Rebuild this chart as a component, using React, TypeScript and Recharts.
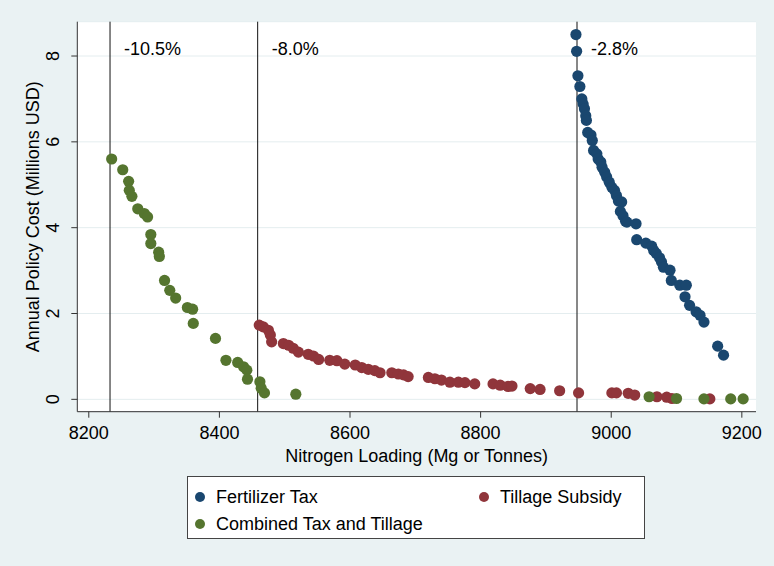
import {
  CartesianGrid,
  Label,
  ReferenceLine,
  Scatter,
  ScatterChart,
  XAxis,
  YAxis,
} from "recharts";

// [nitrogen loading, annual cost]
const fertilizerTax: [number, number][] = [
  [8946, 8.5], [8947, 8.11], [8949, 7.54], [8952, 7.29], [8955, 7.0], [8957, 6.88],
  [8959, 6.77], [8961, 6.61], [8962, 6.5], [8964, 6.22], [8969, 6.16], [8971, 6.03],
  [8973, 5.8], [8978, 5.72], [8980, 5.6], [8984, 5.53], [8986, 5.41], [8990, 5.29],
  [8993, 5.18], [8997, 5.06], [9001, 4.94], [9005, 4.87], [9008, 4.75], [9011, 4.62],
  [9016, 4.6], [9014, 4.38], [9018, 4.28], [9022, 4.15], [9024, 4.13], [9038, 4.09],
  [9039, 3.72], [9053, 3.64], [9062, 3.57], [9065, 3.47], [9069, 3.4], [9074, 3.3],
  [9077, 3.2], [9080, 3.08], [9090, 3.01], [9092, 2.77], [9105, 2.66], [9115, 2.66],
  [9113, 2.39], [9120, 2.19], [9130, 2.04], [9136, 1.96], [9142, 1.8], [9163, 1.24],
  [9172, 1.03],
];

const tillageSubsidy: [number, number][] = [
  [8461, 1.73], [8467, 1.69], [8475, 1.61], [8478, 1.5], [8480, 1.34], [8498, 1.3],
  [8506, 1.26], [8513, 1.19], [8521, 1.1], [8536, 1.05], [8544, 1.01], [8552, 0.93],
  [8569, 0.91], [8580, 0.9], [8592, 0.82], [8608, 0.8], [8618, 0.74], [8628, 0.7],
  [8638, 0.67], [8646, 0.62], [8664, 0.62], [8674, 0.59], [8682, 0.57], [8689, 0.53],
  [8720, 0.51], [8730, 0.48], [8740, 0.45], [8753, 0.4], [8766, 0.4], [8776, 0.39],
  [8791, 0.36], [8819, 0.36], [8830, 0.33], [8842, 0.3], [8848, 0.31], [8876, 0.25],
  [8891, 0.23], [8921, 0.2], [8950, 0.15], [9001, 0.15], [9008, 0.15], [9026, 0.14],
  [9036, 0.1], [9070, 0.06], [9085, 0.05], [9093, 0.02], [9151, 0.01],
];

const combined: [number, number][] = [
  [8235, 5.6], [8252, 5.35], [8261, 5.08], [8262, 4.87], [8266, 4.73], [8275, 4.44],
  [8285, 4.33], [8290, 4.25], [8295, 3.84], [8295, 3.63], [8307, 3.43], [8308, 3.33],
  [8316, 2.77], [8324, 2.54], [8333, 2.36], [8351, 2.14], [8359, 2.1], [8360, 1.77],
  [8394, 1.42], [8410, 0.91], [8428, 0.86], [8437, 0.76], [8442, 0.68], [8443, 0.47],
  [8462, 0.41], [8464, 0.26], [8469, 0.15], [8517, 0.12], [9058, 0.06], [9100, 0.02],
  [9142, 0.01], [9183, 0.01], [9202, 0.01],
];

const cutoffs = [8232.5, 8458.6, 8947.6];
const cutoffLabels = ["-10.5%", "-8.0%", "-2.8%"];

const xTicks = [8200, 8400, 8600, 8800, 9000, 9200];
const yTicks = [0, 2, 4, 6, 8];

const seriesNames = ["Fertilizer Tax", "Tillage Subsidy", "Combined Tax and Tillage"];

const BLUE = "#1a476f";
const RED = "#90353b";
const GREEN = "#55752f";
const BG = "#eaf2f3";
const FONT = "'Liberation Sans', Arial, Helvetica, sans-serif";

const toPts = (arr: [number, number][]) => arr.map(([x, y]) => ({ x, y }));

const dot = (color: string) => (p: any) => (
  <circle cx={p.cx} cy={p.cy} r={5.6} fill={color} stroke="none" />
);

const XTick = (p: any) => (
  <text x={p.x} y={433} textAnchor="middle" dominantBaseline="central" fontSize={18} fill="#000" fontFamily={FONT}>
    {p.payload.value}
  </text>
);

const YTick = (p: any) => (
  <text
    x={53}
    y={p.y}
    transform={`rotate(-90 53 ${p.y})`}
    textAnchor="middle"
    dominantBaseline="central"
    fontSize={18}
    fill="#000"
    fontFamily={FONT}
  >
    {p.payload.value}
  </text>
);

const cutLabel = (text: string) => (p: any) => (
  <text x={p.viewBox.x + 14} y={49} dominantBaseline="central" fontSize={18} fill="#000" fontFamily={FONT}>
    {text}
  </text>
);

function LegendBox() {
  const colors = [BLUE, RED, GREEN];
  const spots = [
    { left: 199, top: 496 },
    { left: 483, top: 496 },
    { left: 199, top: 523 },
  ];
  return (
    <div
      style={{
        position: "absolute",
        left: 187,
        top: 476,
        width: 458,
        height: 63,
        background: "#fff",
        border: "1px solid #444",
        boxSizing: "border-box",
      }}
    >
      {seriesNames.map((name, i) => (
        <div
          key={name}
          style={{
            position: "absolute",
            left: spots[i].left - 187 - 5,
            top: spots[i].top - 476 - 11,
            display: "flex",
            alignItems: "center",
            height: 22,
            fontFamily: FONT,
            fontSize: 18,
            color: "#000",
            whiteSpace: "nowrap",
          }}
        >
          <span
            style={{
              width: 10,
              height: 10,
              borderRadius: "50%",
              background: colors[i],
              marginRight: 11,
              display: "inline-block",
            }}
          />
          {name}
        </div>
      ))}
    </div>
  );
}

export default function App() {
  return (
    <div style={{ position: "fixed", left: 0, top: 0, width: 774, height: 566, background: BG }}>
      <ScatterChart width={774} height={566} margin={{ top: 21.7, right: 18, bottom: 0, left: 0 }}>
        <CartesianGrid horizontal vertical={false} fill="#fff" stroke="#e4edef" strokeWidth={1} />
        <XAxis
          dataKey="x"
          type="number"
          domain={[8182.4, 9221.7]}
          ticks={xTicks}
          allowDataOverflow
          height={154.3}
          stroke="#333"
          tickSize={6}
          tick={XTick}
        >
          <Label
            content={() => (
              <text x={416.7} y={456} textAnchor="middle" dominantBaseline="central" fontSize={18} fill="#000" fontFamily={FONT}>
                Nitrogen Loading (Mg or Tonnes)
              </text>
            )}
          />
        </XAxis>
        <YAxis
          dataKey="y"
          type="number"
          domain={[-0.288, 8.8]}
          ticks={yTicks}
          allowDataOverflow
          width={77.3}
          stroke="#333"
          tickSize={6}
          tick={YTick}
        >
          <Label
            content={() => (
              <text
                x={33}
                y={216.7}
                transform="rotate(-90 33 216.7)"
                textAnchor="middle"
                dominantBaseline="central"
                fontSize={18}
                fill="#000"
                fontFamily={FONT}
              >
                Annual Policy Cost (Millions USD)
              </text>
            )}
          />
        </YAxis>
        {cutoffs.map((c, i) => (
          <ReferenceLine key={c} x={c} stroke="#111" strokeWidth={1}>
            <Label content={cutLabel(cutoffLabels[i])} />
          </ReferenceLine>
        ))}
        <Scatter name={seriesNames[0]} data={toPts(fertilizerTax)} shape={dot(BLUE)} isAnimationActive={false} />
        <Scatter name={seriesNames[1]} data={toPts(tillageSubsidy)} shape={dot(RED)} isAnimationActive={false} />
        <Scatter name={seriesNames[2]} data={toPts(combined)} shape={dot(GREEN)} isAnimationActive={false} />
      </ScatterChart>
      <LegendBox />
    </div>
  );
}
